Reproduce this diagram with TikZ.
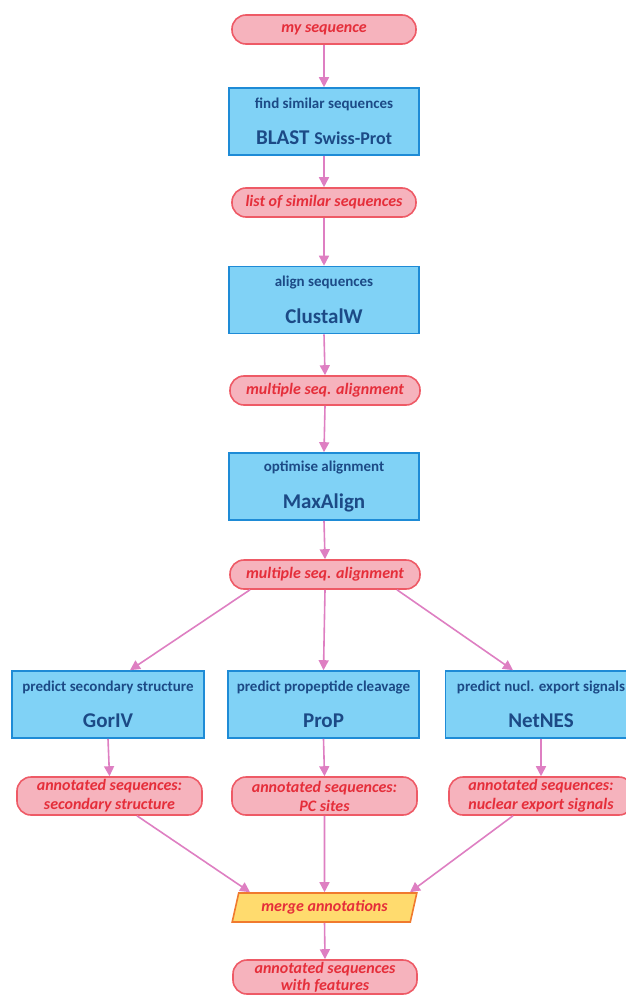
\documentclass[tikz,border=0pt]{standalone}
\usepackage{fontspec}
\setmainfont{Carlito}
\usetikzlibrary{arrows.meta,shapes.geometric}

\definecolor{datafill}{HTML}{F6B3BD}
\definecolor{dataline}{HTML}{EE5A66}
\definecolor{datatext}{HTML}{E52E3A}
\definecolor{toolfill}{HTML}{80D2F6}
\definecolor{toolline}{HTML}{1E8BD6}
\definecolor{tooltext}{HTML}{1C4A86}
\definecolor{mergefill}{HTML}{FFDB6E}
\definecolor{mergeline}{HTML}{F07A2E}
\definecolor{flow}{HTML}{DE7FC2}

\newcommand{\toolcontent}[2]{{\fontsize{15}{17}\selectfont #1}\\[19pt]{\fontsize{21}{23}\selectfont #2}}

\tikzset{
  data/.style={draw=dataline,fill=datafill,line width=1.6pt,rounded corners=14pt,
    minimum width=184pt,minimum height=29pt,inner sep=0pt,align=center,text=datatext,
    font=\fontsize{16}{19}\selectfont\bfseries\itshape},
  tool/.style={draw=toolline,fill=toolfill,line width=1.6pt,minimum width=190pt,
    minimum height=67pt,inner sep=0pt,align=center,text=tooltext,font=\bfseries},
  merge/.style={trapezium,trapezium left angle=71,trapezium right angle=109,
    trapezium stretches=true,draw=mergeline,fill=mergefill,line width=1.6pt,
    minimum width=185pt,minimum height=29pt,inner sep=0pt,text=datatext,
    font=\fontsize{16}{19}\selectfont\bfseries\itshape},
  flowline/.style={draw=flow,line width=1.6pt}
}

\begin{document}
\begin{tikzpicture}[x=1pt,y=-1pt,>={Triangle[width=10pt,length=10pt]}]
  \useasboundingbox (0,0) rectangle (625,995);

  % main chain
  \node[data] (seq) at (324,29.5) {my sequence};
  \node[tool] (blast) at (324,121.5) {\toolcontent{find similar sequences}{BLAST {\fontsize{18}{20}\selectfont Swiss-Prot}}};
  \node[data] (similar) at (324,202.5) {list of similar sequences};
  \node[tool] (clustal) at (324,300) {\toolcontent{align sequences}{ClustalW}};
  \node[data,minimum width=190pt] (msa) at (325,390.5) {multiple seq. alignment};
  \node[tool] (maxalign) at (324,486.5) {\toolcontent{optimise alignment}{MaxAlign}};
  \node[data,minimum width=190pt] (msaopt) at (325,574.5) {multiple seq. alignment};

  % predictions
  \node[tool,minimum width=192pt] (gor) at (108,704.5) {\toolcontent{predict secondary structure}{GorIV}};
  \node[tool,minimum width=191pt] (prop) at (323.5,704.5) {\toolcontent{predict propeptide cleavage}{ProP}};
  \node[tool,minimum width=191pt] (netnes) at (541,704.5) {\toolcontent{predict nucl. export signals}{NetNES}};

  \node[data,minimum width=185pt,minimum height=38pt] (gorout) at (109.5,796) {annotated sequences:\\secondary structure};
  \node[data,minimum width=185pt,minimum height=38pt] (propout) at (324.5,796) {annotated sequences:\\PC sites};
  \node[data,minimum width=184pt,minimum height=38pt] (netout) at (541,796) {annotated sequences:\\nuclear export signals};

  % merging
  \node[merge] (merge) at (324.5,907.5) {merge annotations};
  \node[data,minimum height=34pt,font=\fontsize{16}{17}\selectfont\bfseries\itshape] (final) at (325,977) {annotated sequences\\with features};

  % connectors
  \foreach \a/\b in {seq/blast,blast/similar,similar/clustal,clustal/msa,msa/maxalign,
    maxalign/msaopt,msaopt/prop,gor/gorout,prop/propout,netnes/netout,propout/merge,merge/final}
    \draw[flowline,->] (\a.south) -- (\b.north);
  \draw[flowline,->] ([xshift=-75pt]msaopt.south) -- ([xshift=22pt]gor.north);
  \draw[flowline,->] ([xshift=72pt]msaopt.south) -- ([xshift=-28pt]netnes.north);
  \draw[flowline,->] ([xshift=27.5pt]gorout.south) -- ([xshift=-74.5pt]merge.north);
  \draw[flowline,->] ([xshift=-28pt]netout.south) -- ([xshift=85.5pt]merge.north);
\end{tikzpicture}
\end{document}
